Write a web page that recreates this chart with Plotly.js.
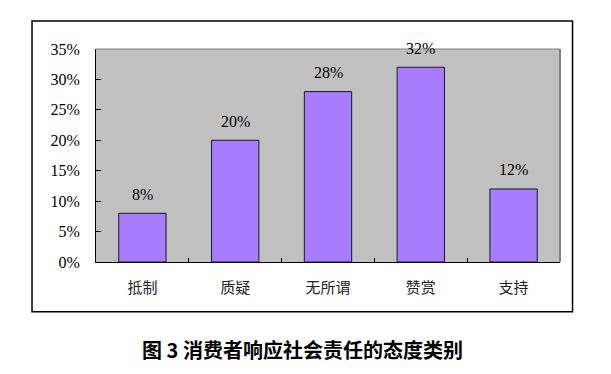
<!DOCTYPE html>
<html>
<head>
<meta charset="utf-8">
<script src="https://cdn.plot.ly/plotly-3.0.1.min.js"></script>
<style>html,body{margin:0;padding:0;background:#fff;}#chart{width:611px;height:374px;}</style>
</head>
<body>
<div id="chart"></div>
<script>
const categories = ['抵制', '质疑', '无所谓', '赞赏', '支持'];
const values = [8, 20, 28, 32, 12];
const valueLabels = ['8%', '20%', '28%', '32%', '12%'];
const yTickVals = [0, 5, 10, 15, 20, 25, 30, 35];
const yTickText = ['0%', '5%', '10%', '15%', '20%', '25%', '30%', '35%'];
const caption = '图 3 消费者响应社会责任的态度类别';

const SERIF = '"Liberation Serif", "Times New Roman", serif';

const trace = {
  type: 'bar',
  x: categories,
  y: values,
  width: 0.51,
  marker: {color: '#A87CFF', line: {color: '#1a1a1a', width: 1}},
  hoverinfo: 'none'
};

const annotations = categories.map((c, i) => ({
  x: c, y: values[i], xref: 'x', yref: 'y', text: valueLabels[i],
  showarrow: false, yshift: 19,
  font: {family: SERIF, size: 16, color: '#000'}
}));
annotations.push({
  xref: 'paper', yref: 'paper', x: 0.444, y: -0.413,
  xanchor: 'center', yanchor: 'middle',
  text: '<b>' + caption + '</b>', showarrow: false,
  font: {family: '"Noto Sans CJK SC"', size: 20, color: '#000'}
});

const layout = {
  width: 611, height: 374,
  margin: {l: 96, r: 51, t: 49, b: 112},
  paper_bgcolor: '#fff',
  plot_bgcolor: '#C0C0C0',
  showlegend: false,
  xaxis: {
    type: 'category',
    tickson: 'boundaries',
    ticks: 'inside', ticklen: 4, tickcolor: '#000', tickwidth: 1,
    showline: true, linecolor: '#000', linewidth: 1,
    showgrid: false, zeroline: false,
    tickfont: {family: '"Noto Sans CJK SC"', size: 15, color: '#222'},
    ticklabelstandoff: 12,
    fixedrange: true
  },
  yaxis: {
    range: [0, 35],
    tickvals: yTickVals, ticktext: yTickText,
    ticks: 'inside', ticklen: 5, tickcolor: '#000', tickwidth: 1,
    showline: true, linecolor: '#000', linewidth: 1,
    showgrid: false, zeroline: false,
    tickfont: {family: SERIF, size: 16, color: '#000'},
    ticklabelstandoff: 12,
    fixedrange: true
  },
  shapes: [
    {type: 'line', xref: 'paper', yref: 'paper', x0: 0, x1: 1, y0: 1, y1: 1, line: {color: '#808080', width: 1}},
    {type: 'line', xref: 'paper', yref: 'paper', x0: 1, x1: 1, y0: 0, y1: 1, line: {color: '#808080', width: 2}},
    {type: 'rect', xref: 'paper', yref: 'paper', x0: -0.1379, x1: 1.027, y0: -0.233, y1: 1.1315, line: {color: '#000', width: 1.5}, fillcolor: 'rgba(0,0,0,0)'}
  ],
  annotations: annotations
};

Plotly.newPlot('chart', [trace], layout, {displayModeBar: false, staticPlot: true});
</script>
</body>
</html>
